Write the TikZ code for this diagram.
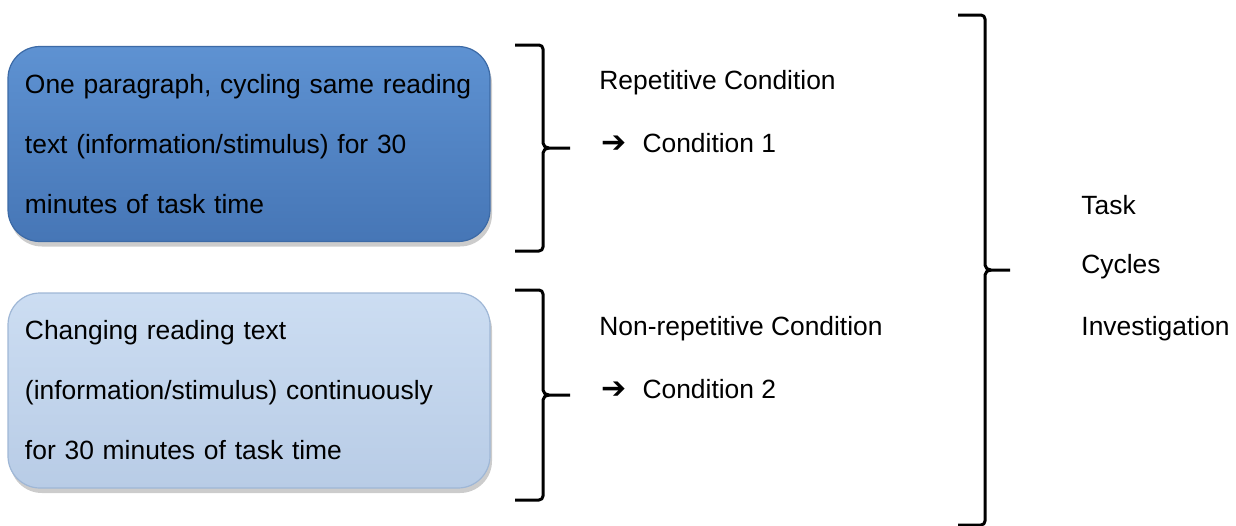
\documentclass[tikz,border=0pt]{standalone}
\usepackage{fontspec}
\setmainfont{Liberation Sans}
\newfontfamily\symfont{DejaVu Sans}
\usetikzlibrary{shadows}
\definecolor{boxdarkA}{HTML}{5E92D2}
\definecolor{boxdarkB}{HTML}{4676B6}
\definecolor{boxdarkE}{HTML}{3C6AA6}
\definecolor{boxlightA}{HTML}{CCDDF2}
\definecolor{boxlightB}{HTML}{B8CCE6}
\definecolor{boxlightE}{HTML}{9FB7D6}
\tikzset{
  txt/.style={font=\fontsize{13.2}{30}\selectfont, inner sep=0pt},
  condbox/.style={rounded corners=16pt, minimum width=241pt, minimum height=97.5pt,
    text width=224pt, align=left, inner xsep=8.5pt, txt,
    drop shadow={shadow xshift=1pt, shadow yshift=-2.5pt, opacity=0.4}},
  darkbox/.style={condbox, draw=boxdarkE, line width=0.6pt, top color=boxdarkA, bottom color=boxdarkB},
  lightbox/.style={condbox, draw=boxlightE, line width=0.6pt, top color=boxlightA, bottom color=boxlightB},
  brace/.style={line width=1.5pt, line join=round},
  label/.style={txt, anchor=west}
}
\newcommand{\heavyarrow}{{\symfont\fontsize{15}{15}\selectfont ➔}}
% square brace with a pointed middle: left end x, spine x, tip x, top y, bottom y
\newcommand{\sqbrace}[5]{%
  \pgfmathsetmacro{\bm}{(#4+#5)/2}
  \draw[brace] (#1,#4) -- (#2-4,#4) to[out=0,in=90] (#2,#4+4) -- (#2,\bm-5)
    to[out=-90,in=180] (#2+6,\bm) -- (#3,\bm);
  \draw[brace] (#2+6,\bm) to[out=180,in=90] (#2,\bm+5) -- (#2,#5-4)
    to[out=-90,in=0] (#2-4,#5) -- (#1,#5);
}
\begin{document}
\begin{tikzpicture}[x=0.5pt,y=-0.5pt]
\useasboundingbox (0,0) rectangle (1236,525);

\node[darkbox] (box1) at (249,144) {One paragraph, cycling same reading\\text (information/stimulus) for 30\\minutes of task time};
\node[lightbox] (box2) at (249,390.5) {Changing reading text\\(information/stimulus) continuously\\for 30 minutes of task time};

\sqbrace{515}{543}{570}{45}{251}
\sqbrace{515}{543}{570}{290}{500}
\sqbrace{958}{985}{1010}{15}{525}

\node[label] (rep) at (599,83) {Repetitive Condition};
\node[label] (c1) at (601,143) {\heavyarrow\hspace{8pt}Condition 1};
\node[label] (nonrep) at (599,329) {Non-repetitive Condition};
\node[label] (c2) at (601,389) {\heavyarrow\hspace{8pt}Condition 2};

\node[label] (task) at (1081,205) {Task};
\node[label] (cycles) at (1081,267) {Cycles};
\node[label] (inv) at (1081,329) {Investigation};
\end{tikzpicture}
\end{document}
